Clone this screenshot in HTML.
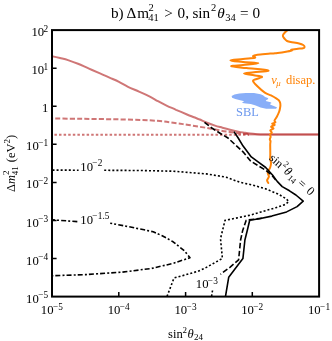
<!DOCTYPE html>
<html><head><meta charset="utf-8">
<style>
html,body{margin:0;padding:0;background:#fff;}
body{width:332px;height:341px;overflow:hidden;position:relative;font-family:"Liberation Serif",serif;}
svg{position:absolute;left:0;top:0;will-change:transform;}
text{font-family:"Liberation Serif",serif;fill:#000;}
.i{font-style:italic;}
</style></head><body>
<svg width="332" height="341" viewBox="0 0 332 341">
<rect width="332" height="341" fill="#fff"/>
<defs><clipPath id="c"><rect x="52.0" y="30.1" width="267.1" height="266.5"/></clipPath></defs>
<g clip-path="url(#c)">
<g fill="none" stroke="#b22222" stroke-opacity="0.62" stroke-width="2" stroke-linejoin="round">
<path d="M51.0,56.0 C52.5,56.3 57.2,57.3 60.0,58.0 C62.8,58.7 65.0,59.1 68.0,60.1 C71.0,61.1 74.5,62.3 78.0,63.7 C81.5,65.1 85.3,67.1 89.0,68.7 C92.7,70.3 96.5,71.9 100.0,73.4 C103.5,74.9 106.8,76.4 110.0,77.8 C113.2,79.2 116.0,80.3 119.0,81.8 C122.0,83.3 124.7,85.2 128.0,86.8 C131.3,88.4 135.4,90.0 139.0,91.6 C142.6,93.2 146.2,94.7 149.4,96.3 C152.6,97.9 155.1,99.6 158.0,101.2 C160.9,102.8 164.0,104.4 167.0,105.8 C170.0,107.2 172.7,108.3 176.0,109.8 C179.3,111.2 184.0,113.2 187.0,114.5 C190.0,115.8 192.0,116.5 194.0,117.3 C196.0,118.1 196.8,118.3 199.1,119.3 C201.4,120.2 205.0,122.0 207.7,123.0 C210.3,124.0 212.6,124.8 215.0,125.6 C217.4,126.4 219.9,127.0 222.4,127.7 C224.9,128.4 227.5,129.1 230.0,129.7 C232.5,130.3 235.0,130.9 237.2,131.4 C239.4,131.9 240.9,132.2 243.0,132.5 C245.1,132.8 247.7,133.2 250.0,133.5 C252.3,133.8 254.5,134.0 257.0,134.2 C259.5,134.4 259.5,134.4 265.0,134.5 C270.5,134.6 280.8,134.5 290.0,134.5 C299.2,134.5 315.0,134.5 320.0,134.5"/>
<path stroke-dasharray="5.1,2.16" stroke-dashoffset="2.96" d="M51.0,118.5 C55.8,118.5 70.2,118.7 80.0,118.8 C89.8,118.9 100.0,119.0 110.0,119.2 C120.0,119.4 131.7,119.6 140.0,119.9 C148.3,120.2 154.2,120.6 160.0,121.1 C165.8,121.6 170.5,122.4 175.0,123.0 C179.5,123.6 183.0,124.1 187.0,124.7 C191.0,125.3 195.2,126.1 199.0,126.7 C202.8,127.3 206.5,127.8 210.0,128.4 C213.5,129.0 216.7,129.8 220.0,130.4 C223.3,131.0 226.7,131.5 230.0,132.0 C233.3,132.5 237.0,133.1 240.0,133.4 C243.0,133.8 246.7,134.0 248.0,134.1"/>
<path stroke-dasharray="2.5,2.1" stroke-dashoffset="1.2" d="M51,134.7 L249,134.7"/>
<path stroke-opacity="0.45" d="M248,134.55 L320,134.55"/>
</g>
<path fill="#88aef8" d="M231.6,96.1 L234.5,94.5 L239.4,93.4 L245.9,93.0 L254.0,93.0 L260.5,94.2 L263.0,95.3 L265.1,96.9 L267.9,98.1 L268.3,99.1 L266.2,100.2 L265.7,101.0 L270.6,102.3 L271.6,103.1 L270.0,103.9 L270.6,104.8 L274.4,106.2 L277.1,107.5 L276.0,108.8 L271.9,108.8 L266.2,108.7 L260.5,107.5 L255.7,105.6 L250.8,103.9 L245.9,103.5 L242.6,103.0 L242.3,102.2 L244.3,101.3 L240.2,100.2 L235.3,99.1 L232.1,97.8 Z"/>
<path fill="none" stroke="#ff8408" stroke-width="2" stroke-linejoin="round" stroke-linecap="round" d="M287.3,30.3 C286.9,30.7 285.3,31.9 284.6,32.8 C283.9,33.7 283.0,34.7 282.9,35.5 C282.8,36.3 283.3,37.0 283.7,37.6 C284.1,38.2 284.6,38.8 285.2,39.4 C285.8,40.0 286.1,40.6 287.0,41.0 C287.9,41.4 288.7,41.6 290.7,42.0 C292.7,42.4 297.0,43.0 299.1,43.5 C301.2,44.0 302.3,44.4 303.2,45.0 C304.1,45.6 304.6,46.4 304.6,46.9 C304.6,47.4 304.1,47.9 303.0,48.2 C301.9,48.5 299.5,48.6 297.9,48.8 C296.2,49.0 294.2,49.2 293.1,49.4 C292.0,49.5 291.4,49.5 291.2,49.7 C291.0,49.9 292.8,50.1 291.7,50.5 C290.6,50.9 287.4,51.5 284.6,52.0 C281.8,52.5 277.4,52.9 275.0,53.2 C272.6,53.5 273.1,53.4 270.2,53.6 C267.3,53.9 260.4,54.3 257.5,54.7 C254.6,55.1 253.4,55.5 253.0,56.0 C252.6,56.5 256.5,57.3 254.8,57.8 C253.1,58.3 247.1,58.6 243.0,59.1 C238.9,59.6 230.4,60.0 230.4,60.5 C230.4,61.0 238.3,61.5 243.0,62.0 C247.7,62.5 258.4,62.7 258.4,63.2 C258.4,63.7 247.5,64.5 243.0,65.0 C238.5,65.5 230.7,65.8 231.3,66.3 C231.9,66.8 240.5,67.4 246.7,68.1 C252.9,68.8 267.2,69.8 268.4,70.5 C269.6,71.2 258.0,71.8 253.9,72.3 C249.8,72.8 244.0,73.0 244.0,73.5 C244.0,74.0 250.9,74.8 253.9,75.3 C256.9,75.8 261.6,76.2 262.0,76.8 C262.4,77.4 258.1,78.3 256.6,79.0 C255.1,79.7 252.9,79.6 253.0,80.8 C253.1,82.0 255.4,84.3 257.4,86.3 C259.4,88.3 262.5,91.1 264.8,92.6 C267.1,94.1 269.1,94.5 271.0,95.4 C272.9,96.4 274.9,97.5 276.2,98.3 C277.5,99.1 278.1,99.5 278.7,100.2 C279.3,100.9 279.7,101.6 280.0,102.4 C280.3,103.2 280.4,104.2 280.4,105.3 C280.4,106.4 280.1,107.8 279.9,108.8 C279.7,109.8 279.7,110.1 279.2,111.5 C278.7,112.9 277.5,115.5 276.7,117.0 C275.9,118.5 274.7,119.8 274.5,120.7 C274.3,121.6 275.7,121.9 275.3,122.4 C274.9,122.9 272.2,123.3 272.1,123.7 C272.0,124.1 274.9,124.5 274.7,125.0 C274.5,125.5 271.3,126.1 271.1,126.7 C270.9,127.3 273.6,127.9 273.5,128.5 C273.4,129.1 270.6,129.8 270.3,130.5 C270.0,131.2 271.8,131.8 271.8,132.5 C271.8,133.2 270.3,133.8 270.1,134.5 C269.9,135.2 270.7,136.1 270.6,136.9 C270.6,137.7 269.8,138.6 269.8,139.3 C269.8,140.0 270.4,140.2 270.5,141.1 C270.6,142.0 270.2,142.8 270.2,145.0 C270.2,147.2 270.3,151.7 270.3,154.0 C270.3,156.3 270.1,157.1 270.2,158.6 C270.3,160.1 271.0,161.5 271.0,163.0 C271.0,164.5 270.8,165.9 270.2,167.5 C269.6,169.1 267.9,170.9 267.7,172.4 C267.5,173.9 269.0,175.3 268.9,176.6 C268.8,177.9 267.2,179.1 267.1,180.2 C267.0,181.3 268.1,182.5 268.3,183.0"/>
<g fill="none" stroke="#000" stroke-width="1.6" stroke-linejoin="round">
<path d="M234.0,131.6 L238.5,138.5 L243.1,146.1 L251.3,156.9 L258.1,161.9 L265.7,167.5 L272.5,175.0 L277.2,181.4 L282.2,186.6 L289.5,190.8 L295.9,195.0 L303.2,201.2 L297.1,206.6 L286.6,211.9 L271.8,216.1 L259.2,218.8 L249.7,220.3 L247.2,230.8 L244.9,240.0 L242.9,258.6 L228.7,277.3 L225.4,297.0"/>
<path stroke-dasharray="5.5,2.4" d="M204.5,122.3 L211.8,128.0 L222.0,134.5 L228.0,138.0 L235.0,144.5 L243.0,151.8 L250.6,161.0 L258.1,165.7 L265.7,170.2 L271.7,175.2 L276.5,181.0"/>
<path stroke-dasharray="5.5,2.4" d="M262.0,218.2 L246.2,220.2 L242.6,230.8 L240.6,240.0 L238.6,259.9 L229.9,267.3 L220.5,274.3"/>
<path stroke-dasharray="2,2" d="M212.5,290.5 L211.5,297.0"/>
<path stroke-dasharray="2,2.07" d="M52.5,170.1 L78.6,170.2"/>
<path stroke-dasharray="2,2.07" d="M104.2,170.3 L140.0,170.5 L173.1,171.2 L206.3,173.9 L226.1,177.2 L240.0,182.3 L252.7,185.1 L265.3,188.7 L278.0,194.0 L285.3,198.2 L288.9,201.4 L285.3,204.5 L275.8,207.7 L261.1,211.9 L250.8,215.0 L236.0,218.1 L225.0,220.4 L220.5,238.7 L222.4,258.4 L205.0,268.2 L198.0,271.3 L174.0,278.0 L166.8,297.0"/>
<path stroke-dasharray="5,2,2,2.2" stroke-dashoffset="3" d="M53.0,219.9 L78.6,221.7"/>
<path stroke-dasharray="5,2,2,2.2" stroke-dashoffset="3" d="M110.2,223.2 L126.1,226.2 L144.1,229.8 L153.2,231.8 L162.2,235.8 L168.0,238.9 L173.1,241.8 L184.7,251.1 L190.0,257.7 L173.1,263.4 L151.2,268.5 L122.3,272.1 L86.1,274.6 L53.0,275.7"/>
</g>
</g>
<rect x="52.0" y="30.1" width="267.1" height="266.5" fill="none" stroke="#000" stroke-width="2"/>
<g stroke="#000" stroke-width="1.5">
<path d="M52.0,68.2h4.6 M52.0,106.2h4.6 M52.0,144.3h4.6 M52.0,182.4h4.6 M52.0,220.5h4.6 M52.0,258.5h4.6"/>
<path d="M118.8,296.6v-4.6 M185.6,296.6v-4.6 M252.3,296.6v-4.6"/>
</g>
<text x="236" y="116.3" font-size="12.4" style="fill:#6c98ee">SBL</text>
<text x="80.3" y="170.7" font-size="12.7" text-anchor="start">10<tspan font-size="9.3" dx="-0.9" dy="-4.4">−<tspan dx="0.4">2</tspan></tspan></text>
<text x="80.3" y="223.8" font-size="12.7" text-anchor="start">10<tspan font-size="9.3" dx="-0.9" dy="-4.4">−<tspan dx="0.4">1.5</tspan></tspan></text>
<text x="195.8" y="288.4" font-size="12.7" text-anchor="start">10<tspan font-size="9.3" dx="-0.9" dy="-4.4">−<tspan dx="0.4">3</tspan></tspan></text>
<g transform="translate(268.4,159.1) rotate(41.4)">
<text y="0" font-size="12.2"><tspan x="0">sin</tspan><tspan x="19.8" class="i">θ</tspan><tspan x="38">=</tspan><tspan x="49.9">0</tspan></text>
<text font-size="8.5"><tspan x="14.7" y="-5.2">2</tspan><tspan x="26.8" y="2.4">14</tspan></text>
</g>
<text y="83.7" font-size="12.5" style="fill:#ff8408"><tspan x="271.2" class="i">ν</tspan><tspan x="276.3" font-size="8.8" dy="2.6" class="i">μ</tspan><tspan x="285.9" dy="-2.6">disap.</tspan></text>
<text x="48.2" y="36.1" font-size="12.7" text-anchor="end">10<tspan font-size="9.3" dx="-0.6" dy="-4.4">2</tspan></text>
<text x="48.2" y="74.2" font-size="12.7" text-anchor="end">10<tspan font-size="9.3" dx="-0.6" dy="-4.4">1</tspan></text>
<text x="48.3" y="112.0" font-size="12.7" text-anchor="end">1</text>
<text x="48.2" y="150.3" font-size="12.7" text-anchor="end">10<tspan font-size="9.3" dx="-0.9" dy="-4.4">−<tspan dx="0.4">1</tspan></tspan></text>
<text x="48.2" y="188.4" font-size="12.7" text-anchor="end">10<tspan font-size="9.3" dx="-0.9" dy="-4.4">−<tspan dx="0.4">2</tspan></tspan></text>
<text x="48.2" y="226.5" font-size="12.7" text-anchor="end">10<tspan font-size="9.3" dx="-0.9" dy="-4.4">−<tspan dx="0.4">3</tspan></tspan></text>
<text x="48.2" y="264.5" font-size="12.7" text-anchor="end">10<tspan font-size="9.3" dx="-0.9" dy="-4.4">−<tspan dx="0.4">4</tspan></tspan></text>
<text x="48.2" y="302.6" font-size="12.7" text-anchor="end">10<tspan font-size="9.3" dx="-0.9" dy="-4.4">−<tspan dx="0.4">5</tspan></tspan></text>
<text x="51.9" y="314.3" font-size="12.7" text-anchor="middle">10<tspan font-size="9.3" dx="-0.9" dy="-4.4">−<tspan dx="0.4">5</tspan></tspan></text>
<text x="118.7" y="314.3" font-size="12.7" text-anchor="middle">10<tspan font-size="9.3" dx="-0.9" dy="-4.4">−<tspan dx="0.4">4</tspan></tspan></text>
<text x="185.5" y="314.3" font-size="12.7" text-anchor="middle">10<tspan font-size="9.3" dx="-0.9" dy="-4.4">−<tspan dx="0.4">3</tspan></tspan></text>
<text x="252.2" y="314.3" font-size="12.7" text-anchor="middle">10<tspan font-size="9.3" dx="-0.9" dy="-4.4">−<tspan dx="0.4">2</tspan></tspan></text>
<text x="319.0" y="314.3" font-size="12.7" text-anchor="middle">10<tspan font-size="9.3" dx="-0.9" dy="-4.4">−<tspan dx="0.4">1</tspan></tspan></text>
<text y="337.6" font-size="12.6"><tspan x="168.1">sin</tspan><tspan x="182.6" font-size="9" dy="-4.7">2</tspan><tspan x="187.6" dy="4.7" class="i">θ</tspan><tspan x="194.1" font-size="9" dy="2.2">24</tspan></text>
<g transform="translate(15.2,192.1) rotate(-90)">
<text x="0" y="0" font-size="12.5">Δ<tspan class="i">m</tspan><tspan font-size="9" dy="-6.3">2</tspan><tspan font-size="9" dx="-4.6" dy="9.4">41</tspan><tspan dy="-3.1" dx="0.8"> (eV</tspan><tspan font-size="9" dy="-5.4">2</tspan><tspan dy="5.4">)</tspan></text>
</g>
<g font-size="15.2">
<text y="17.7"><tspan x="110.9">b)</tspan><tspan x="126.6">Δ</tspan><tspan x="137.2">m</tspan><tspan x="164.2">&gt;</tspan><tspan x="177.6">0,</tspan><tspan x="192.4">sin</tspan><tspan x="217.2" class="i">θ</tspan><tspan x="239.9">=</tspan><tspan x="252.6">0</tspan></text>
<text font-size="10.5"><tspan x="148.4" y="11.1">2</tspan><tspan x="148.2" y="21.3">41</tspan><tspan x="210.9" y="11.4">2</tspan><tspan x="225.2" y="20.6">34</tspan></text>
</g>
</svg>
</body></html>
